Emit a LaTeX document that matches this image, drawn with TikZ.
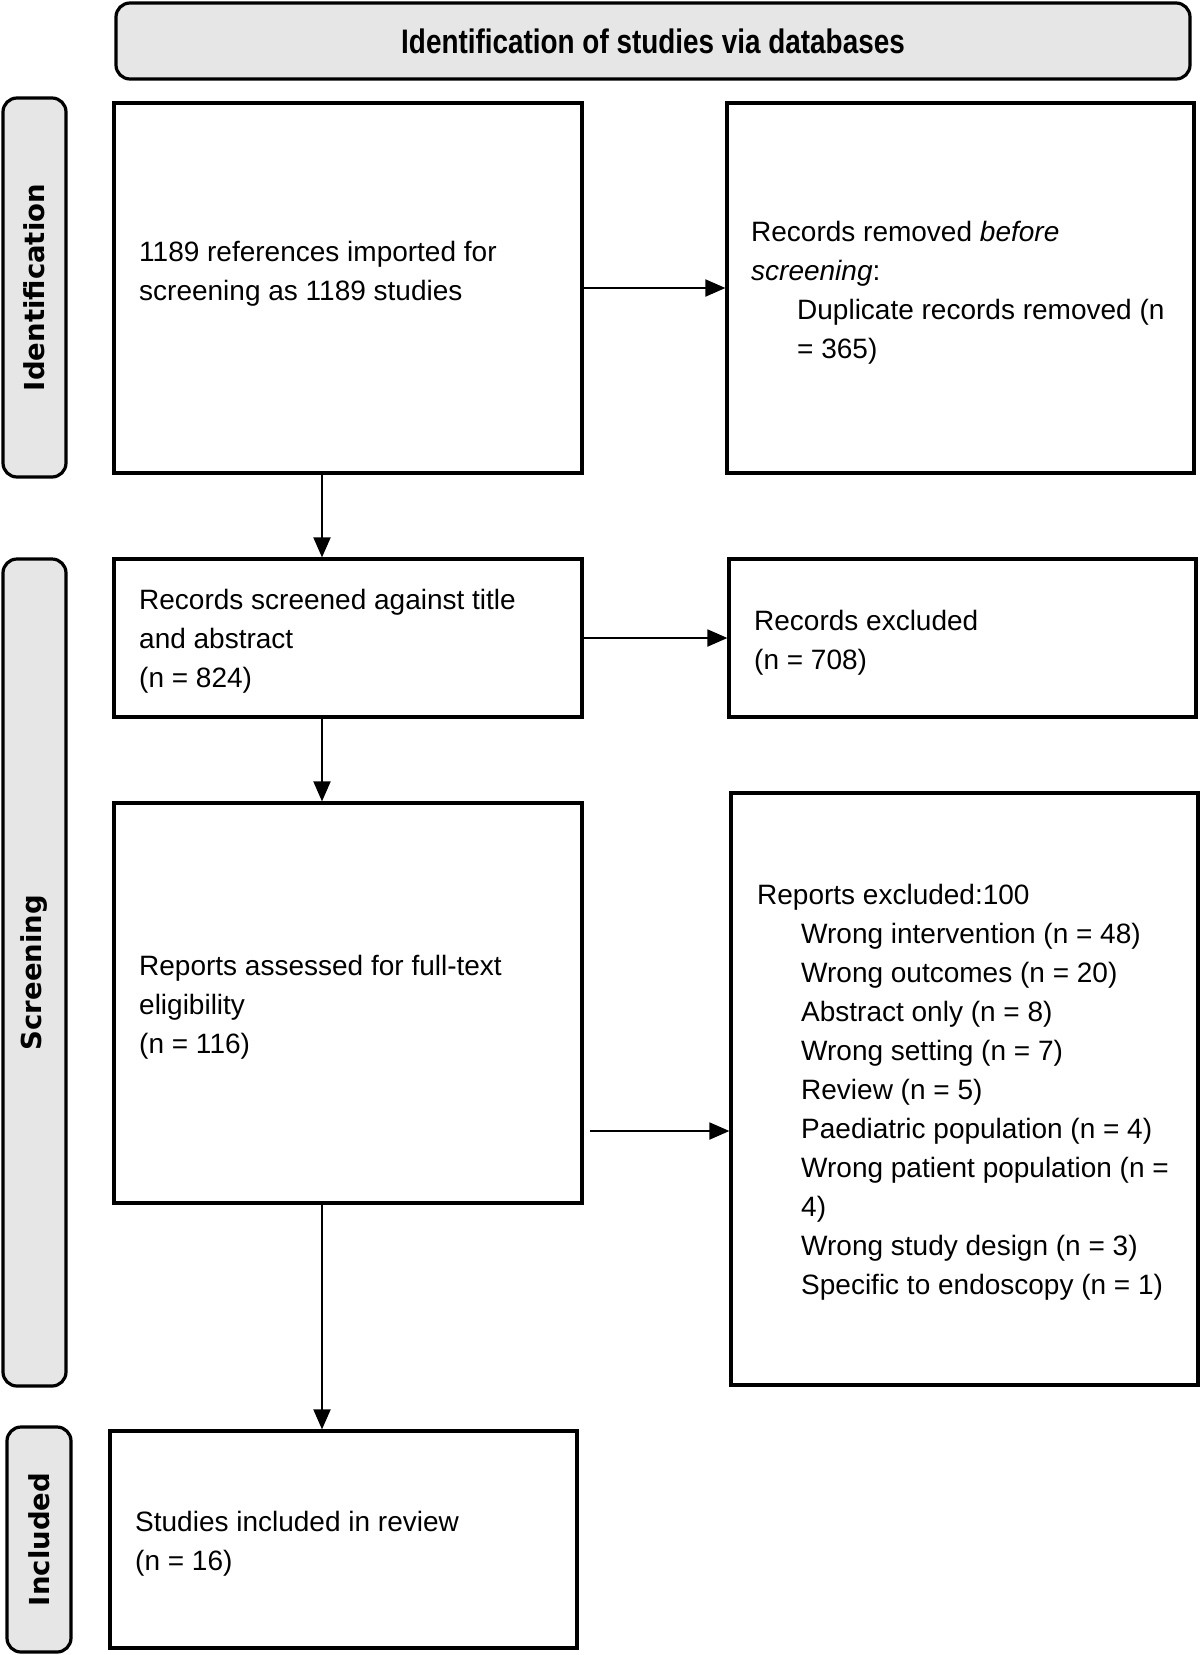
\documentclass[tikz,border=0pt]{standalone}
\usepackage{fontspec}
\setmainfont{Liberation Sans}
\newfontfamily\hdrfont[FakeStretch=0.82]{Liberation Sans}
\newfontfamily\sidefont{DejaVu Sans}
\usetikzlibrary{arrows.meta}
\definecolor{hdrgray}{HTML}{E6E6E6}
\begin{document}
\begin{tikzpicture}[x=1pt,y=-1pt,
  box/.style={draw,line width=3.2pt,inner sep=0pt},
  hdr/.style={draw,line width=3.2pt,fill=hdrgray,rounded corners=14pt,inner sep=0pt,
    font=\hdrfont\bfseries\fontsize{34}{40}\selectfont},
  side/.style={draw,line width=3.2pt,fill=hdrgray,rounded corners=14pt,inner sep=0pt},
  sidetext/.style={rotate=90,inner sep=0pt,font=\sidefont\bfseries\fontsize{27.5}{32}\selectfont},
  txt/.style={anchor=base west,align=left,inner sep=0pt,font=\fontsize{28}{39}\selectfont},
  arr/.style={line width=1.9pt,-{Triangle[length=20pt,width=17pt]}}]
\useasboundingbox (0,0) rectangle (1200,1655);
% header and side labels
\node[hdr,minimum width=1074pt,minimum height=76pt] (hd) at (653,41) {Identification of studies via databases};
\node[side,minimum width=63pt,minimum height=379pt] (sid) at (34.5,287.5) {};
\node[sidetext] (sidt) at (sid.center) {Identification};
\node[side,minimum width=63pt,minimum height=827pt] (sscr) at (34.5,972.5) {};
\node[sidetext] (sscrt) at (sscr.center) {Screening};
\node[side,minimum width=64pt,minimum height=225pt] (sinc) at (39,1539.5) {};
\node[sidetext] (sinct) at (sinc.center) {Included};
% boxes
\node[box,minimum width=468pt,minimum height=370pt] (b1) at (348,288) {};
\node[box,minimum width=467pt,minimum height=370pt] (b2) at (960.5,288) {};
\node[box,minimum width=468pt,minimum height=158pt] (b3) at (348,638) {};
\node[box,minimum width=467pt,minimum height=158pt] (b4) at (962.5,638) {};
\node[box,minimum width=468pt,minimum height=400pt] (b5) at (348,1003) {};
\node[box,minimum width=467pt,minimum height=592pt] (b6) at (964.5,1089) {};
\node[box,minimum width=467pt,minimum height=217pt] (b7) at (343.5,1539.5) {};
% texts (base = baseline of last line)
\node[txt] (t1) at (139,300) {1189 references imported for\\screening as 1189 studies};
\node[txt] (t2) at (751,358) {Records removed \textit{before}\\\textit{screening}:\\\hspace*{46pt}Duplicate records removed (n\\\hspace*{46pt}= 365)};
\node[txt] (t3) at (139,687) {Records screened against title\\and abstract\\(n = 824)};
\node[txt] (t4) at (754,669) {Records excluded\\(n = 708)};
\node[txt] (t5) at (139,1053) {Reports assessed for full-text\\eligibility\\(n = 116)};
\node[txt] (t6) at (757,1294) {Reports excluded:100\\
\hspace*{44pt}Wrong intervention (n = 48)\\
\hspace*{44pt}Wrong outcomes (n = 20)\\
\hspace*{44pt}Abstract only (n = 8)\\
\hspace*{44pt}Wrong setting (n = 7)\\
\hspace*{44pt}Review (n = 5)\\
\hspace*{44pt}Paediatric population (n = 4)\\
\hspace*{44pt}Wrong patient population (n =\\
\hspace*{44pt}4)\\
\hspace*{44pt}Wrong study design (n = 3)\\
\hspace*{44pt}Specific to endoscopy (n = 1)};
\node[txt] (t7) at (135,1570) {Studies included in review\\(n = 16)};
% connectors
\coordinate (ax) at (322,0);
\coordinate (ay3) at (0,1131);
\draw[arr] (b1.east) -- (b2.west);
\draw[arr] (b3.east) -- (b4.west);
\draw[arr] ([xshift=6pt]b5.east |- ay3) -- (b6.west |- ay3);
\draw[arr] (b1.south -| ax) -- (b3.north -| ax);
\draw[arr] (b3.south -| ax) -- (b5.north -| ax);
\draw[arr] (b5.south -| ax) -- (b7.north -| ax);
\end{tikzpicture}
\end{document}
